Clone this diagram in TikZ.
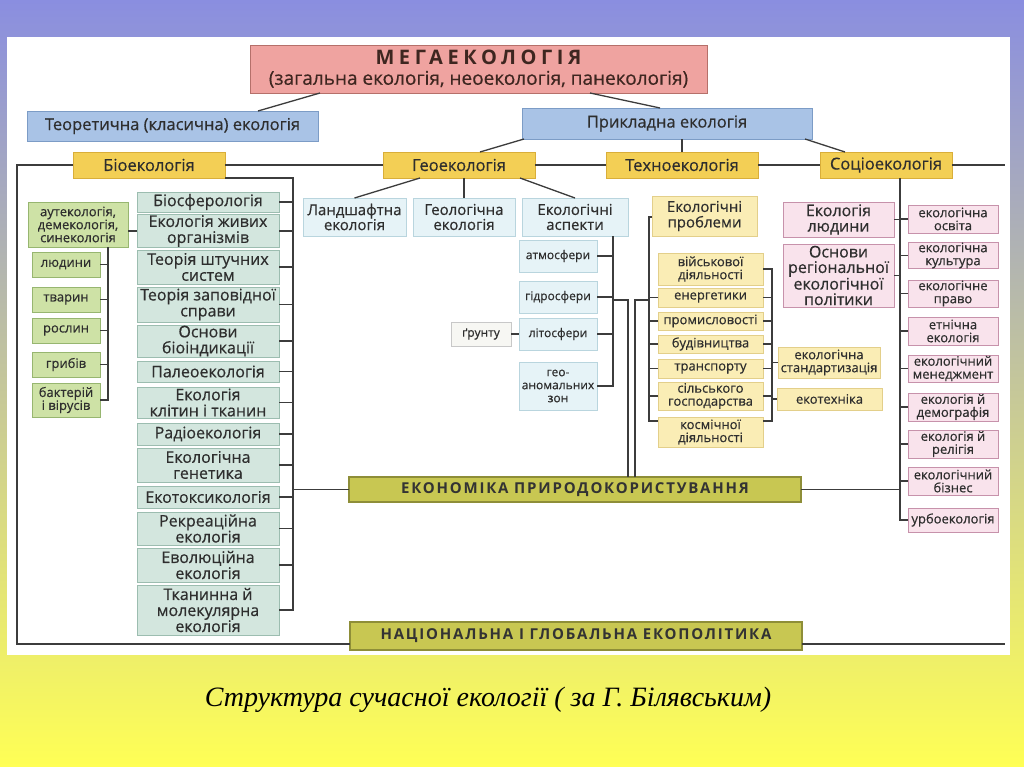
\documentclass[tikz,border=0pt]{standalone}
\usepackage{fontspec}
\setmainfont{Open Sans}[FakeBold=0.5]
\newfontfamily\spacedfont{Open Sans}[LetterSpace=12]
\newfontfamily\megafont{Open Sans}[LetterSpace=23]
\newfontfamily\capserif{Liberation Serif}
\usetikzlibrary{calc}
\definecolor{bgTop}{HTML}{8A8EE0}
\definecolor{bgMid}{HTML}{C6C5A6}
\definecolor{bgBot}{HTML}{FFFF55}
\definecolor{megaF}{HTML}{EFA3A0}
\definecolor{megaD}{HTML}{B5706A}
\definecolor{megaT}{HTML}{3E2620}
\definecolor{blueF}{HTML}{A9C3E6}
\definecolor{blueD}{HTML}{7C9CC6}
\definecolor{goldF}{HTML}{F3CF55}
\definecolor{goldD}{HTML}{D9AE3A}
\definecolor{cyanF}{HTML}{E6F3F7}
\definecolor{cyanD}{HTML}{B9D5DE}
\definecolor{tealF}{HTML}{D3E6DE}
\definecolor{tealD}{HTML}{9CBDB0}
\definecolor{greenF}{HTML}{CEE2A6}
\definecolor{greenD}{HTML}{97B670}
\definecolor{lyelF}{HTML}{FAEDB5}
\definecolor{lyelD}{HTML}{E3CF8A}
\definecolor{pinkF}{HTML}{F9E3EC}
\definecolor{pinkD}{HTML}{C792AB}
\definecolor{oliveF}{HTML}{C8C752}
\definecolor{oliveD}{HTML}{8E8E38}
\definecolor{soilF}{HTML}{F7F7F3}
\definecolor{soilD}{HTML}{C8C8C8}
\definecolor{lineC}{HTML}{3C3C3C}
\definecolor{txt}{HTML}{2E2E2E}
\newcommand\rb[7]{\node[#1, minimum width={(#5-#3)*1pt}, minimum height={(#6-#4)*1pt}] (#2) at ({(#3+#5)/2},{(#4+#6)/2}) {#7};}
\begin{document}
\begin{tikzpicture}[x=1pt,y=-1pt,
  base/.style={draw, line width=0.9pt, inner sep=0.5pt, outer sep=0pt, align=center, text=txt},
  megabox/.style={base, fill=megaF, draw=megaD, text=megaT, font=\fontsize{19}{19}\selectfont},
  bluebox/.style={base, fill=blueF, draw=blueD, font=\fontsize{16.5}{17}\selectfont},
  goldbox/.style={base, fill=goldF, draw=goldD, font=\fontsize{16.5}{17}\selectfont},
  cyanbox/.style={base, fill=cyanF, draw=cyanD, font=\fontsize{15}{15}\selectfont},
  cyansmall/.style={base, fill=cyanF, draw=cyanD, font=\fontsize{12}{13}\selectfont},
  tealbox/.style={base, fill=tealF, draw=tealD, font=\fontsize{16}{16}\selectfont},
  greenbox/.style={base, fill=greenF, draw=greenD, font=\fontsize{13}{13}\selectfont},
  lyelbig/.style={base, fill=lyelF, draw=lyelD, font=\fontsize{15}{15.5}\selectfont},
  lyelbox/.style={base, fill=lyelF, draw=lyelD, font=\fontsize{13}{13}\selectfont},
  pinkbig/.style={base, fill=pinkF, draw=pinkD, font=\fontsize{16}{15.5}\selectfont},
  pinkbox/.style={base, fill=pinkF, draw=pinkD, font=\fontsize{13}{13}\selectfont},
  olivebox/.style={base, fill=oliveF, draw=oliveD, line width=1.2pt, text=black!80, font=\spacedfont\bfseries\fontsize{15}{15}\selectfont},
  soilbox/.style={base, fill=soilF, draw=soilD, font=\fontsize{12}{13}\selectfont},
  ln/.style={draw=lineC, line width=1.3pt}]
\useasboundingbox (0,0) rectangle (1024,767);
\shade[top color=bgTop, middle color=bgMid, bottom color=bgBot] (0,0) rectangle (1024,767);
\fill[white] (7,37) rectangle (1010,655);
% frame coordinates
\coordinate (TL) at (17,165);
\coordinate (BL) at (17,644);
\coordinate (TR) at (1005,165);
\coordinate (BR) at (1005,644);
\coordinate (bR) at (293,178);
\coordinate (gV) at (108,247);
\coordinate (aspR) at (613,236);
\coordinate (v1) at (628,300);
\coordinate (v2) at (635,300);
\coordinate (tL) at (649,217);
\coordinate (tR) at (772,270);
\coordinate (sV) at (900,178);
% top
\rb{megabox}{mega}{250}{45}{707}{93}{{\megafont\bfseries\fontsize{20}{20}\selectfont МЕГАЕКОЛОГІЯ}\\[1pt](загальна екологія, неоекологія, панекологія)}
\rb{bluebox}{theor}{27}{111}{318}{141}{Теоретична (класична) екологія}
\rb{bluebox}{prikl}{522}{108}{812}{139}{Прикладна екологія}
\rb{goldbox}{bio}{73}{152}{225}{178}{Біоекологія}
\rb{goldbox}{geo}{383}{152}{535}{178}{Геоекологія}
\rb{goldbox}{techno}{606}{152}{758}{178}{Техноекологія}
\rb{goldbox}{socio}{820}{152}{952}{178}{Соціоекологія}
% geo
\rb{cyanbox}{landsh}{303}{198}{406}{236}{Ландшафтна\\екологія}
\rb{cyanbox}{geol}{413}{198}{515}{236}{Геологічна\\екологія}
\rb{cyanbox}{aspects}{522}{198}{628}{236}{Екологічні\\аспекти}
\rb{cyansmall}{atm}{519}{240}{597}{272}{атмосфери}
\rb{cyansmall}{hydro}{519}{281}{597}{313}{гідросфери}
\rb{cyansmall}{litho}{519}{318}{597}{350}{літосфери}
\rb{cyansmall}{geoan}{519}{362}{597}{410}{гео-\\аномальних\\зон}
\rb{soilbox}{soil}{451}{322}{511}{346}{ґрунту}
% techno
\rb{lyelbig}{probl}{652}{196}{757}{236}{Екологічні\\проблеми}
\rb{lyelbox}{mil}{658}{253}{763}{285}{військової\\діяльності}
\rb{lyelbox}{energ}{658}{288}{763}{307}{енергетики}
\rb{lyelbox}{prom}{658}{312}{763}{330}{промисловості}
\rb{lyelbox}{bud}{658}{335}{763}{353}{будівництва}
\rb{lyelbox}{trans}{658}{359}{763}{378}{транспорту}
\rb{lyelbox}{silsk}{658}{382}{763}{410}{сільського\\господарства}
\rb{lyelbox}{kosm}{658}{417}{763}{447}{космічної\\діяльності}
\rb{lyelbox}{stand}{778}{347}{880}{378}{екологічна\\стандартизація}
\rb{lyelbox}{ekotech}{777}{388}{882}{410}{екотехніка}
% socio
\rb{pinkbig}{humanec}{783}{202}{894}{237}{Екологія\\людини}
\rb{pinkbig}{osnovy}{783}{244}{894}{307}{Основи\\регіональної\\екологічної\\політики}
\rb{pinkbox}{osvita}{908}{205}{998}{233}{екологічна\\освіта}
\rb{pinkbox}{kult}{908}{243}{998}{268}{екологічна\\культура}
\rb{pinkbox}{pravo}{908}{280}{998}{307}{екологічне\\право}
\rb{pinkbox}{etn}{908}{317}{998}{345}{етнічна\\екологія}
\rb{pinkbox}{menedzh}{908}{355}{998}{382}{екологічний\\менеджмент}
\rb{pinkbox}{demogr}{908}{393}{998}{421}{екологія й\\демографія}
\rb{pinkbox}{relig}{908}{430}{998}{458}{екологія й\\релігія}
\rb{pinkbox}{biznes}{908}{467}{998}{495}{екологічний\\бізнес}
\rb{pinkbox}{urbo}{908}{508}{998}{532}{урбоекологія}
% bio
\rb{tealbox}{b1}{137}{192}{279}{212}{Біосферологія}
\rb{tealbox}{b2}{137}{215}{279}{247}{Екологія живих\\організмів}
\rb{tealbox}{b3}{137}{250}{279}{284}{Теорія штучних\\систем}
\rb{tealbox}{b4}{137}{287}{279}{322}{Теорія заповідної\\справи}
\rb{tealbox}{b5}{137}{325}{279}{357}{Основи\\біоіндикації}
\rb{tealbox}{b6}{137}{361}{279}{382}{Палеоекологія}
\rb{tealbox}{b7}{137}{387}{279}{418}{Екологія\\клітин і тканин}
\rb{tealbox}{b8}{137}{423}{279}{445}{Радіоекологія}
\rb{tealbox}{b9}{137}{448}{279}{482}{Екологічна\\генетика}
\rb{tealbox}{b10}{137}{486}{279}{508}{Екотоксикологія}
\rb{tealbox}{b11}{137}{512}{279}{545}{Рекреаційна\\екологія}
\rb{tealbox}{b12}{137}{548}{279}{582}{Еволюційна\\екологія}
\rb{tealbox}{b13}{137}{585}{279}{635}{Тканинна й\\молекулярна\\екологія}
\rb{greenbox}{g0}{28}{202}{128}{247}{аутекологія,\\демекологія,\\синекологія}
\rb{greenbox}{g1}{32}{252}{100}{277}{людини}
\rb{greenbox}{g2}{32}{287}{100}{312}{тварин}
\rb{greenbox}{g3}{32}{318}{100}{343}{рослин}
\rb{greenbox}{g4}{32}{352}{100}{377}{грибів}
\rb{greenbox}{g5}{32}{383}{100}{417}{бактерій\\і вірусів}
% bottom
\rb{olivebox}{econ}{349}{477}{801}{502}{ЕКОНОМІКА ПРИРОДОКОРИСТУВАННЯ}
\rb{olivebox}{nat}{350}{622}{802}{650}{НАЦІОНАЛЬНА І ГЛОБАЛЬНА ЕКОПОЛІТИКА}
% connectors: top
\draw[ln] ($(mega.south west)+(70,0)$) -- ($(theor.north east)+(-60,0)$);
\draw[ln] ($(mega.south east)+(-117,0)$) -- ($(prikl.north west)+(138,0)$);
\draw[ln] ($(bio.north)+(6,0)$) -- ($(bio.north)+(6,0)$ |- theor.south);
\draw[ln] ($(prikl.south west)+(2,0)$) -- ($(geo.north)+(21,0)$);
\draw[ln] (techno.north) -- (techno.north |- prikl.south);
\draw[ln] ($(prikl.south east)+(-7,0)$) -- ($(socio.north)+(-41,0)$);
% frame
\draw[ln] (bio.west) -- (TL) -- (BL) -- (BL -| nat.west);
\draw[ln] (nat.east |- BR) -- (BR);
\draw[ln] (bio.east) -- (geo.west);
\draw[ln] (geo.east) -- (techno.west);
\draw[ln] (techno.east) -- (socio.west);
\draw[ln] (socio.east) -- (TR);
% geo
\draw[ln] ($(geo.south)+(-39,0)$) -- (landsh.north);
\draw[ln] (geo.south -| geol.north) -- (geol.north);
\draw[ln] ($(geo.south)+(61,0)$) -- (aspects.north);
\draw[ln] (aspR) -- (aspR |- geoan.east) -- (geoan.east);
\foreach \n in {atm,hydro,litho} \draw[ln] (\n.east) -- (\n.east -| aspR);
\draw[ln] (soil.east) -- (litho.west);
\draw[ln] (v1 -| aspR) -- (v1) -- (v1 |- econ.north);
% techno
\draw[ln] ($(probl.north)+(-5,0)$) -- ($(probl.north)+(-5,0)$ |- techno.south);
\draw[ln] (probl.west |- tL) -- (tL) -- ($(kosm.west -| tL)+(0,-11)$) -- ($(kosm.west)+(0,-11)$);
\foreach \n in {energ,prom,bud,trans,silsk} \draw[ln] (\n.west) -- (\n.west -| tL);
\draw[ln] (v2 -| tL) -- (v2) -- (v2 |- econ.north);
\draw[ln] (mil.east) -- (mil.east -| tR) -- ($(kosm.east -| tR)+(0,-11)$) -- ($(kosm.east)+(0,-11)$);
\foreach \n in {energ,prom,bud,trans,silsk} \draw[ln] (\n.east) -- (\n.east -| tR);
\draw[ln] (stand.west -| tR) -- (stand.west);
\draw[ln] (ekotech.west -| tR) -- (ekotech.west);
% socio
\draw[ln] (sV) -- (sV |- urbo.west) -- (urbo.west);
\foreach \n in {humanec,osnovy} \draw[ln] (\n.east) -- (\n.east -| sV);
\foreach \n in {osvita,kult,pravo,etn,menedzh,demogr,relig,biznes} \draw[ln] (\n.west -| sV) -- (\n.west);
\draw[ln] (econ.east) -- (econ.east -| sV);
% bio
\draw[ln] (bio.south east) -- (bR) -- (bR |- b13.east) -- (b13.east);
\foreach \n in {b1,b2,b3,b4,b5,b6,b7,b8,b9,b10,b11,b12} \draw[ln] (\n.east) -- (\n.east -| bR);
\draw[ln] (bR |- econ.west) -- (econ.west);
\draw[ln] (g0.east |- b2.west) -- (b2.west);
\draw[ln] (gV) -- (gV |- g5.east) -- (g5.east);
\foreach \n in {g1,g2,g3,g4} \draw[ln] (\n.east) -- (\n.east -| gV);
% bottom
\draw[ln] ($(econ.south)+(8,0)$) -- ($(econ.south)+(8,0)$ |- nat.north);
% caption
\node[font=\capserif\itshape\fontsize{28}{30}\selectfont, text=black] (cap) at (488,700) {Структура сучасної екології ( за Г. Білявським)};
\end{tikzpicture}
\end{document}
